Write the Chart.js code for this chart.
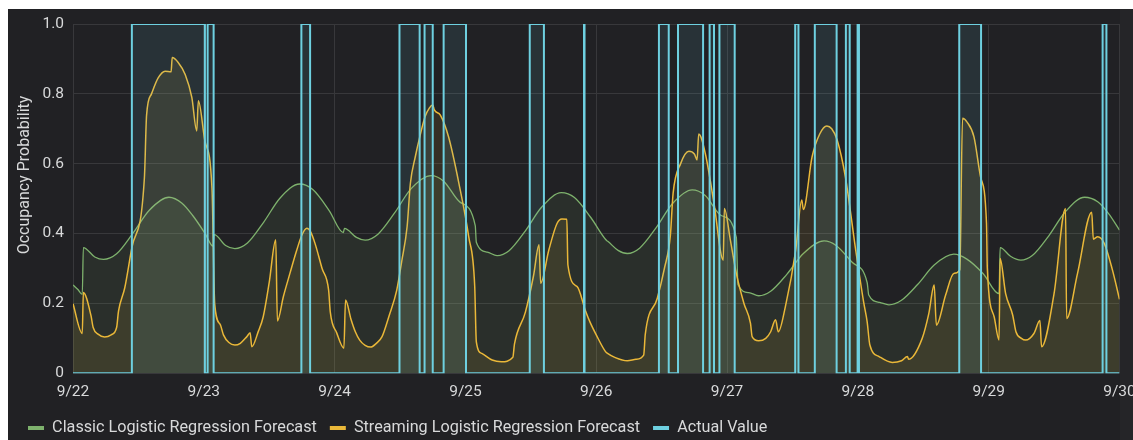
<!DOCTYPE html>
<html>
<head>
<meta charset="utf-8">
<script src="https://cdn.jsdelivr.net/npm/chart.js@4.4.1/dist/chart.umd.min.js"></script>
<style>
  html, body { margin: 0; padding: 0; background: #fff; overflow: hidden; }
  #panel { position: absolute; left: 8px; top: 9px; width: 1125px; height: 431px; background: #212124; }
  #edge { position: absolute; left: 1120px; top: 9px; width: 13px; height: 431px; background: #252528; }
  #chart { position: absolute; left: 8px; top: 9px; }
</style>
</head>
<body>
<div id="panel"></div>
<div id="edge"></div>
<canvas id="chart" width="1140" height="437"></canvas>
<script>
// hours since 9/22 00:00
const dayLabels = ['9/22', '9/23', '9/24', '9/25', '9/26', '9/27', '9/28', '9/29', '9/30'];
const yTickLabels = ['0', '0.2', '0.4', '0.6', '0.8', '1.0'];
const yTitle = 'Occupancy Probability';
const seriesNames = ['Classic Logistic Regression Forecast', 'Streaming Logistic Regression Forecast', 'Actual Value'];
const seriesColors = ['#7EB26D', '#EAB839', '#6ED0E0'];

const classicHours = [
  0, 0.9, 1.7,
  1.9, 4, 5.6, 8, 11, 14, 17.6, 20, 22, 24.2, 25.7,
  25.9, 28, 29.7, 32, 35, 38, 41.6, 44, 47, 49.6,
  49.8, 52, 53.6, 56, 59, 62, 65.7, 68, 71, 73.8,
  74, 76, 77.8, 80, 83, 86, 89.6, 92, 95, 97.9,
  98.1, 100, 101.7, 104, 107, 110, 113.6, 116, 119, 121.7,
  122, 124, 125.8, 128, 131, 134, 137.8, 140, 143, 145.7,
  146, 148, 149.7, 152, 155, 158, 161.6, 164, 167, 169.9,
  170.1, 172, 173.9, 176, 179, 182, 185.6, 188, 190, 192
];
const classicValues = [
  0.253, 0.240, 0.226,
  0.360, 0.333, 0.326, 0.342, 0.401, 0.467, 0.504, 0.487, 0.451, 0.401, 0.364,
  0.397, 0.366, 0.357, 0.373, 0.433, 0.502, 0.542, 0.526, 0.466, 0.403,
  0.415, 0.389, 0.381, 0.399, 0.459, 0.528, 0.566, 0.550, 0.490, 0.423,
  0.375, 0.347, 0.337, 0.351, 0.408, 0.476, 0.517, 0.503, 0.446, 0.380,
  0.378, 0.352, 0.343, 0.359, 0.417, 0.486, 0.525, 0.509, 0.451, 0.389,
  0.254, 0.231, 0.222, 0.235, 0.284, 0.343, 0.379, 0.366, 0.317, 0.260,
  0.224, 0.203, 0.196, 0.209, 0.255, 0.310, 0.341, 0.327, 0.285, 0.228,
  0.360, 0.335, 0.324, 0.337, 0.393, 0.461, 0.504, 0.491, 0.457, 0.410
];

const streamingHours = [
  0, 1.7, 1.9, 3.3, 3.7, 4.6, 5.8, 7.0, 8.0, 8.35,
  9.5, 10.8, 13.1, 13.5, 14.4, 15.6, 16.9, 18.0, 18.2, 19.3,
  20.6, 21.8, 22.7, 23.0, 24.2, 25.5, 26.0, 27.0, 27.6, 28.6,
  29.7, 30.7, 31.9, 32.5, 32.8, 34.0, 34.9, 36.0, 37.2, 37.5,
  38.6, 39.8, 41.0, 42.0, 42.9, 43.6, 44.4, 45.7, 46.9, 47.2,
  48.4, 49.7, 50.0, 51.0, 51.8, 52.6, 53.6, 54.6, 55.6, 56.7,
  58.0, 59.4, 60.3, 61.3, 61.9, 62.8, 63.7, 64.6, 65.4, 66.0,
  66.3, 67.4, 68.9, 70.8, 72.6, 73.7, 74.0, 75.0, 76.9, 78.6,
  80.7, 81.0, 83.0, 84.5, 85.5, 85.8, 87.3, 88.8, 89.7, 90.6,
  90.8, 92.5, 94.0, 94.9, 96.0, 97.7, 98.0, 99.5, 101.7, 103.3,
  104.7, 105.0, 107.2, 108.5, 109.6, 110.1, 111.5, 113.0, 114.0, 114.5,
  114.8, 116.0, 117.6, 119.3, 119.5, 120.6, 121.7, 123.1, 124.3, 124.6,
  125.8, 127.1, 128.0, 128.9, 129.4, 130.7, 132.6, 133.7, 134.0, 135.6,
  137.0, 138.3, 139.2, 140.2, 141.7, 143.6, 145.1, 145.7, 146.2, 147.9,
  150.3, 152.0, 153.1, 153.3, 155.8, 157.0, 158.0, 158.4, 160.1, 161.6,
  162.7, 163.2, 164.0, 165.3, 166.5, 167.6, 167.75, 169.0, 169.9, 170.1,
  171.1, 172.4, 173.0, 174.0, 174.8, 176.3, 177.4, 177.7, 180.0, 182.1,
  182.3, 184.3, 186.9, 187.2, 188.0, 189.2, 190.7, 192.0
];
const streamingValues = [
  0.199, 0.114, 0.231, 0.165, 0.131, 0.112, 0.104, 0.110, 0.131, 0.178,
  0.245, 0.360, 0.560, 0.739, 0.800, 0.845, 0.865, 0.863, 0.904, 0.890,
  0.855, 0.790, 0.694, 0.780, 0.665, 0.530, 0.198, 0.140, 0.110, 0.088,
  0.081, 0.086, 0.105, 0.116, 0.076, 0.120, 0.162, 0.260, 0.382, 0.150,
  0.220, 0.286, 0.350, 0.396, 0.415, 0.405, 0.372, 0.300, 0.238, 0.176,
  0.115, 0.072, 0.210, 0.155, 0.119, 0.095, 0.080, 0.075, 0.085, 0.105,
  0.165, 0.238, 0.320, 0.420, 0.544, 0.620, 0.682, 0.735, 0.760, 0.768,
  0.754, 0.739, 0.677, 0.544, 0.391, 0.250, 0.090, 0.057, 0.038, 0.033,
  0.046, 0.084, 0.175, 0.280, 0.368, 0.258, 0.353, 0.429, 0.442, 0.441,
  0.310, 0.248, 0.180, 0.145, 0.110, 0.062, 0.058, 0.045, 0.036, 0.040,
  0.052, 0.112, 0.215, 0.300, 0.395, 0.515, 0.601, 0.636, 0.628, 0.611,
  0.685, 0.630, 0.487, 0.324, 0.472, 0.382, 0.286, 0.200, 0.143, 0.105,
  0.093, 0.100, 0.119, 0.153, 0.119, 0.191, 0.353, 0.496, 0.469, 0.620,
  0.685, 0.708, 0.700, 0.668, 0.563, 0.353, 0.200, 0.148, 0.081, 0.048,
  0.031, 0.036, 0.048, 0.040, 0.100, 0.170, 0.253, 0.138, 0.224, 0.286,
  0.296, 0.730, 0.720, 0.677, 0.563, 0.430, 0.300, 0.162, 0.095, 0.329,
  0.229, 0.167, 0.119, 0.100, 0.095, 0.114, 0.151, 0.076, 0.229, 0.472,
  0.157, 0.286, 0.461, 0.384, 0.391, 0.372, 0.296, 0.212
];

// occupied intervals (actual value = 1)
const occupiedFrom = [10.8, 24.7, 41.9, 59.9, 64.5, 68.0, 83.8, 93.75, 107.5, 111.0, 116.8, 118.6, 132.5, 136.1, 141.8, 143.95, 162.6, 188.9];
const occupiedTo   = [24.2, 25.8, 43.5, 63.6, 66.0, 72.1, 86.4, 93.85, 109.3, 115.6, 117.6, 121.4, 133.1, 140.1, 142.5, 144.2, 166.6, 189.6];

function toPoints(hours, values) {
    return hours.map(function(h, i) { return { x: h, y: values[i] }; });
}

let actualPoints = [{ x: 0, y: 0 }];
occupiedFrom.forEach(function(start, i) {
    actualPoints.push({ x: start, y: 0 }, { x: start, y: 1 }, { x: occupiedTo[i], y: 1 }, { x: occupiedTo[i], y: 0 });
});
actualPoints.push({ x: 192, y: 0 });

const textColor = '#d8d9da';
const gridColor = '#38383b';

// axis title sits higher than chart.js would center it
const yTitlePlugin = {
    id: 'yTitle',
    afterDraw(chart) {
        const ctx = chart.ctx;
        ctx.save();
        ctx.translate(17, 166);
        ctx.rotate(-Math.PI / 2);
        ctx.font = '16px Roboto';
        ctx.fillStyle = textColor;
        ctx.textAlign = 'center';
        ctx.textBaseline = 'middle';
        ctx.fillText(yTitle, 0, 0);
        ctx.restore();
    }
};

const ctx = document.getElementById('chart').getContext('2d');
const chart = new Chart(ctx, {
    type: 'line',
    data: {
        datasets: [{
            label: seriesNames[0],
            data: toPoints(classicHours, classicValues),
            borderColor: seriesColors[0],
            backgroundColor: 'rgba(126, 178, 109, 0.1)',
            borderWidth: 1.3,
            fill: 'origin',
            cubicInterpolationMode: 'monotone',
            order: 3
        }, {
            label: seriesNames[1],
            data: toPoints(streamingHours, streamingValues),
            borderColor: seriesColors[1],
            backgroundColor: 'rgba(234, 184, 57, 0.1)',
            borderWidth: 1.5,
            fill: 'origin',
            cubicInterpolationMode: 'monotone',
            order: 2
        }, {
            label: seriesNames[2],
            data: actualPoints,
            borderColor: seriesColors[2],
            backgroundColor: 'rgba(110, 208, 224, 0.1)',
            borderWidth: 2,
            fill: 'origin',
            tension: 0,
            order: 1
        }]
    },
    options: {
        responsive: false,
        animation: false,
        devicePixelRatio: 1,
        events: [],
        elements: { point: { radius: 0 } },
        layout: { padding: { left: 7, right: 28.5, top: 15, bottom: 0 } },
        scales: {
            x: {
                type: 'linear',
                min: 0,
                max: 192,
                border: { display: false },
                grid: { color: gridColor, drawTicks: false },
                afterFit: function(scale) {
                    scale.height = 33.5;
                    scale.paddingLeft = 0;
                    scale.paddingRight = 0;
                },
                ticks: {
                    stepSize: 24,
                    autoSkip: false,
                    maxRotation: 0,
                    padding: 10,
                    color: textColor,
                    font: { family: 'Roboto', size: 15.5 },
                    callback: function(value) { return dayLabels[Math.round(value / 24)]; }
                }
            },
            y: {
                min: 0,
                max: 1,
                border: { display: false },
                grid: { color: gridColor, drawTicks: false },
                afterFit: function(scale) {
                    scale.width = 58;
                    scale.paddingTop = 0;
                    scale.paddingBottom = 0;
                },
                ticks: {
                    stepSize: 0.2,
                    padding: 9,
                    color: textColor,
                    font: { family: 'Roboto', size: 15.5 },
                    callback: function(value) { return yTickLabels[Math.round(value * 5)]; }
                }
            }
        },
        plugins: {
            tooltip: { enabled: false },
            legend: {
                position: 'bottom',
                align: 'start',
                labels: {
                    color: textColor,
                    font: { family: 'Roboto', size: 16.2 },
                    boxWidth: 16,
                    boxHeight: 4,
                    padding: 13,
                    generateLabels: function(chart) {
                        return chart.data.datasets.map(function(ds, i) {
                            return {
                                text: ds.label,
                                fillStyle: ds.borderColor,
                                strokeStyle: ds.borderColor,
                                lineWidth: 0,
                                hidden: false,
                                datasetIndex: i,
                                fontColor: textColor
                            };
                        });
                    }
                }
            }
        }
    },
    plugins: [yTitlePlugin]
});
</script>
</body>
</html>
